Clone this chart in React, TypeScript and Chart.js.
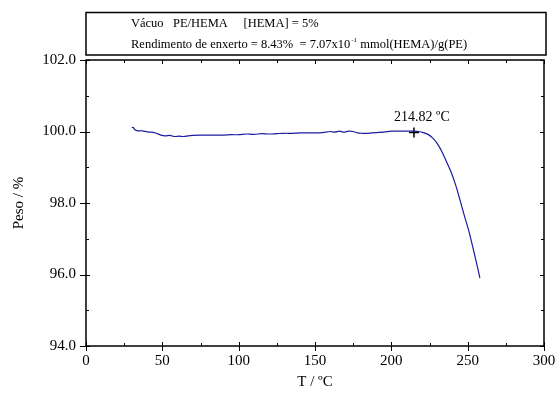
import React, { useEffect, useRef } from "react";
import { Chart, registerables } from "chart.js";
Chart.register(...registerables);

const temps = [30,31,32,34,37,40,43,46,49,52,55,58,61,64,67,70,75,80,85,90,95,100,105,110,115,120,125,130,135,140,145,150,155,160,163,166,169,172,175,178,181,184,187,190,195,200,205,210,215,218,221,224,227,230,233,236,239,242,245,248,251,254,257,258];
const weights = [100.12,100.11,100.05,100.02,100.02,99.99,99.98,99.95,99.90,99.88,99.89,99.86,99.87,99.86,99.88,99.89,99.90,99.90,99.90,99.90,99.91,99.91,99.93,99.92,99.94,99.93,99.94,99.95,99.95,99.96,99.96,99.96,99.97,100.00,99.98,100.01,99.98,100.01,100.00,99.96,99.95,99.95,99.96,99.97,99.98,100.01,100.01,100.01,100.01,100.00,99.97,99.92,99.82,99.67,99.45,99.17,98.88,98.52,98.08,97.62,97.18,96.65,96.10,95.90];
const onsetT = 214.82;
const onsetW = 99.97;
const onsetLabel = "214.82 ºC";
const xTicks = [0, 50, 100, 150, 200, 250, 300];
const yTicks = [94, 96, 98, 100, 102];
const legendLine1 = "Vácuo   PE/HEMA     [HEMA] = 5%";
const legendLine2a = "Rendimento de enxerto = 8.43%  = 7.07x10";
const legendSup = "-1";
const legendLine2b = " mmol(HEMA)/g(PE)";
const xTitle = "T / ºC";
const yTitle = "Peso / %";

const FONT = "'Liberation Serif', 'Times New Roman', serif";

const framePlugin = {
  id: "frame",
  afterDraw(chart: any) {
    const ctx = chart.ctx;
    const { left, right, top, bottom } = chart.chartArea;
    const xs = chart.scales.x;
    const ys = chart.scales.y;
    ctx.save();
    ctx.strokeStyle = "#000";
    ctx.lineWidth = 1.5;
    ctx.strokeRect(left, top, right - left, bottom - top);
    ctx.lineWidth = 1;
    for (let v = 0; v <= 300; v += 25) {
      const px = Math.round(xs.getPixelForValue(v)) + 0.5;
      const major = v % 50 === 0;
      ctx.beginPath();
      if (major) {
        ctx.moveTo(px, bottom + 5);
        ctx.lineTo(px, bottom - 4);
        ctx.moveTo(px, top);
        ctx.lineTo(px, top + 4);
      } else {
        ctx.moveTo(px, bottom);
        ctx.lineTo(px, bottom - 3);
        ctx.moveTo(px, top);
        ctx.lineTo(px, top + 3);
      }
      ctx.stroke();
    }
    for (let v = 94; v <= 102; v += 1) {
      const py = Math.round(ys.getPixelForValue(v)) + 0.5;
      const major = v % 2 === 0;
      ctx.beginPath();
      if (major) {
        ctx.moveTo(left - 6, py);
        ctx.lineTo(left + 4, py);
        ctx.moveTo(right, py);
        ctx.lineTo(right - 4, py);
      } else {
        ctx.moveTo(left, py);
        ctx.lineTo(left + 3, py);
        ctx.moveTo(right, py);
        ctx.lineTo(right - 3, py);
      }
      ctx.stroke();
    }
    // legend box
    ctx.lineWidth = 1.5;
    ctx.strokeRect(86, 12.5, 460, 42.5);
    ctx.fillStyle = "#000";
    ctx.textBaseline = "alphabetic";
    ctx.textAlign = "left";
    ctx.font = `12.5px ${FONT}`;
    ctx.fillText(legendLine1, 131, 27);
    ctx.fillText(legendLine2a, 131, 48);
    const w = ctx.measureText(legendLine2a).width;
    ctx.font = `7px ${FONT}`;
    ctx.fillText(legendSup, 131 + w + 1, 42);
    const ws = ctx.measureText(legendSup).width;
    ctx.font = `12.5px ${FONT}`;
    ctx.fillText(legendLine2b, 131 + w + ws + 1, 48);
    // onset label
    ctx.font = `14px ${FONT}`;
    ctx.textAlign = "center";
    ctx.fillText(onsetLabel, xs.getPixelForValue(onsetT) + 8, ys.getPixelForValue(onsetW) - 12);
    ctx.restore();
  },
};

export default function App() {
  const ref = useRef<HTMLCanvasElement>(null);
  useEffect(() => {
    document.body.style.margin = "0";
    const chart = new Chart(ref.current as HTMLCanvasElement, {
      type: "line",
      data: {
        datasets: [
          {
            data: temps.map((t, i) => ({ x: t, y: weights[i] })),
            borderColor: "#1c1ca0",
            borderWidth: 1.2,
            pointRadius: 0,
            tension: 0.3,
          },
          {
            data: [{ x: onsetT, y: onsetW }],
            showLine: false,
            pointStyle: "cross",
            pointRadius: 5,
            borderColor: "#000",
            borderWidth: 1.5,
          },
        ],
      },
      plugins: [framePlugin],
      options: {
        animation: false,
        responsive: false,
        layout: { padding: { top: 60, right: 11, left: 0, bottom: 0 } },
        plugins: { legend: { display: false }, tooltip: { enabled: false } },
        scales: {
          x: {
            type: "linear",
            min: 0,
            max: 300,
            afterBuildTicks: (s: any) => { s.ticks = xTicks.map((v) => ({ value: v })); },
            afterFit: (s: any) => { s.height = 50; s.paddingLeft = 0; s.paddingRight = 0; },
            grid: { display: false, drawTicks: false },
            border: { display: false },
            ticks: { color: "#000", font: { family: FONT, size: 15 }, padding: 6, maxRotation: 0 },
            title: { display: true, text: xTitle, color: "#000", font: { family: FONT, size: 15 }, padding: { top: 0, bottom: 5 } },
          },
          y: {
            min: 94,
            max: 102,
            afterBuildTicks: (s: any) => { s.ticks = yTicks.map((v) => ({ value: v })); },
            afterFit: (s: any) => { s.width = 86; s.paddingTop = 0; s.paddingBottom = 0; },
            grid: { display: false, drawTicks: false },
            border: { display: false },
            ticks: { color: "#000", font: { family: FONT, size: 15 }, padding: 10, callback: (v: any) => Number(v).toFixed(1) },
            title: { display: true, text: yTitle, color: "#000", font: { family: FONT, size: 15 }, padding: { top: 10, bottom: 0 } },
          },
        },
      },
    } as any);
    return () => chart.destroy();
  }, []);
  return (
    <div style={{ width: 555, height: 396, background: "#fff" }}>
      <canvas ref={ref} width={555} height={396} />
    </div>
  );
}
